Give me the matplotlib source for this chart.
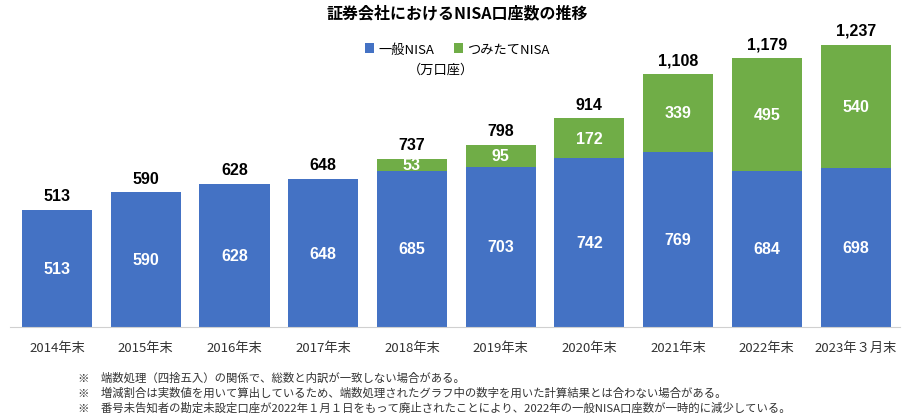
import numpy as np
import matplotlib
matplotlib.use('Agg')
import matplotlib.pyplot as plt

plt.rcParams['font.family'] = ['Noto Sans CJK JP', 'DejaVu Sans']

years = ['2014年末', '2015年末', '2016年末', '2017年末', '2018年末',
         '2019年末', '2020年末', '2021年末', '2022年末', '2023年３月末']
ippan = [513, 590, 628, 648, 685, 703, 742, 769, 684, 698]
tsumitate = [0, 0, 0, 0, 53, 95, 172, 339, 495, 540]
totals = [513, 590, 628, 648, 737, 798, 914, 1108, 1179, 1237]

BLUE = '#4472C4'
GREEN = '#70AD47'

notes = [
    '※　端数処理（四捨五入）の関係で、総数と内訳が一致しない場合がある。',
    '※　増減割合は実数値を用いて算出しているため、端数処理されたグラフ中の数字を用いた計算結果とは合わない場合がある。',
    '※　番号未告知者の勘定未設定口座が2022年１月１日をもって廃止されたことにより、2022年の一般NISA口座数が一時的に減少している。',
]

fig = plt.figure(figsize=(9.02, 4.14), dpi=100)
ax = fig.add_axes([10 / 902, 1 - 328 / 414, 890 / 902, 308 / 414])

x = np.arange(len(years))
w = 0.79
ax.bar(x, ippan, w, color=BLUE, label='一般NISA')
ax.bar(x, tsumitate, w, bottom=ippan, color=GREEN, label='つみたてNISA')

num_font = ['Liberation Sans', 'DejaVu Sans']
for i in range(len(years)):
    ax.text(x[i], ippan[i] / 2, str(ippan[i]), ha='center', va='center',
            color='white', fontsize=11.5, fontweight='bold', family=num_font)
    if tsumitate[i]:
        ax.text(x[i], ippan[i] + tsumitate[i] / 2, str(tsumitate[i]), ha='center',
                va='center', color='white', fontsize=11.5, fontweight='bold',
                family=num_font)
    ax.text(x[i], totals[i] + 30, f'{totals[i]:,}', ha='center', va='bottom',
            color='black', fontsize=11.5, fontweight='bold', family=num_font)

ax.set_xlim(-0.53, len(years) - 0.5)
ax.set_ylim(0, 1350)
ax.set_yticks([])
ax.set_xticks(x)
ax.set_xticklabels(years, fontsize=9.5, color='#333333')
ax.tick_params(axis='x', length=0, pad=10)
for s in ['top', 'right', 'left']:
    ax.spines[s].set_visible(False)
ax.spines['bottom'].set_color('#d0d0d0')

fig.text(457 / 902, 1 - 13 / 414, '証券会社におけるNISA口座数の推移', ha='center', va='center',
         fontsize=11.5, fontweight='bold')
fig.legend(loc='center', bbox_to_anchor=(457 / 902, 1 - 50 / 414), ncol=2, frameon=False,
           fontsize=9.5, handlelength=0.7, handleheight=0.7, handletextpad=0.3,
           columnspacing=1.5)
fig.text(441 / 902, 1 - 70 / 414, '（万口座）', ha='center', va='center', fontsize=9.5)

for k, n in enumerate(notes):
    fig.text(78 / 902, 1 - (378 + 15 * k) / 414, n, ha='left', va='center',
             fontsize=8.2, color='#333333')

fig.savefig('out.png', dpi=100)
